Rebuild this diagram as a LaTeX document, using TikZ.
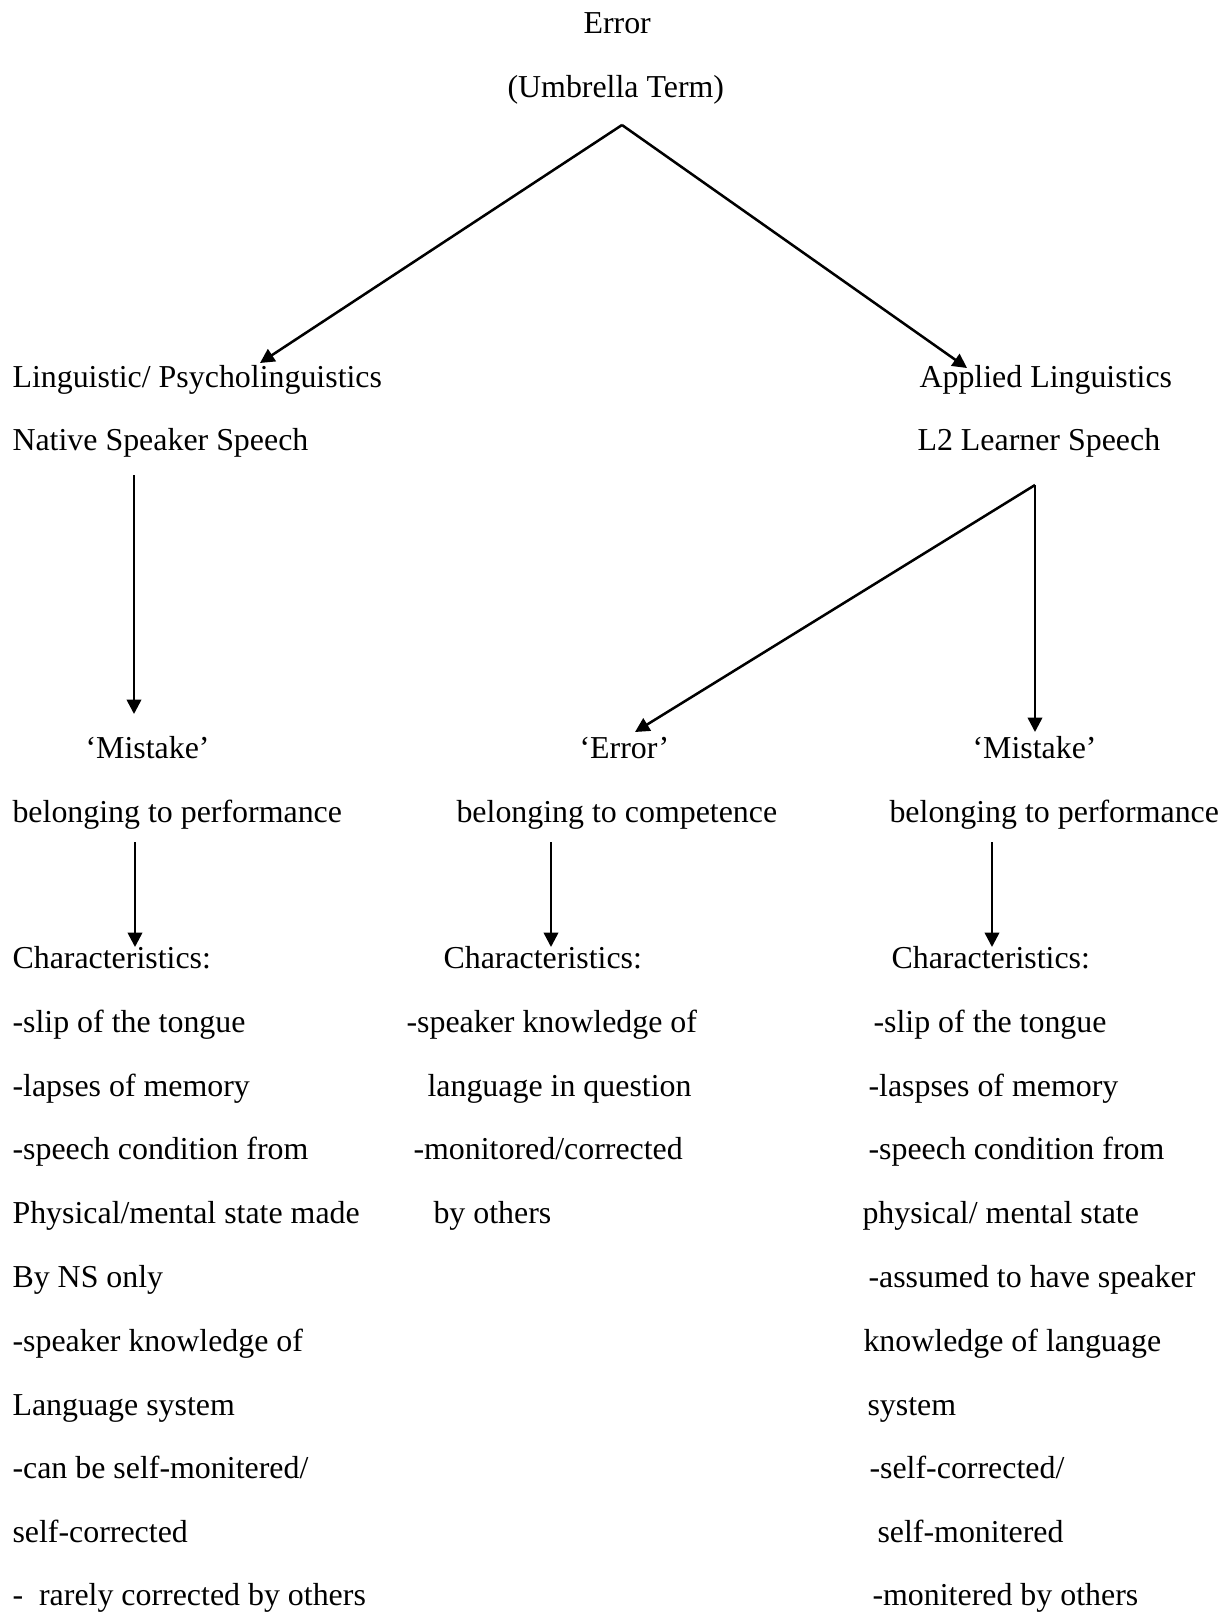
\documentclass[tikz,border=0pt]{standalone}
\usepackage{fontspec}
\setmainfont{Liberation Serif}
\usetikzlibrary{arrows.meta}

\begin{document}
\begin{tikzpicture}[x=0.3762pt, y=-0.3762pt,
        txt/.style={anchor=base west, inner sep=0pt, font=\fontsize{12pt}{14pt}\selectfont},
        arr/.style={-{Triangle[length=5.4pt,width=5.4pt]}, line width=0.95pt}]
                \useasboundingbox (0,0) rectangle (1230,1612);

                % Nodes
                \node[txt] (error) at (583,33) {Error};
                \node[txt] (umbrella) at (507,97) {(Umbrella Term)};

                \node[txt] (ling) at (12,387) {Linguistic/ Psycholinguistics};
                \node[txt] (native) at (12,450) {Native Speaker Speech};
                \node[txt] (applied) at (919,387) {Applied Linguistics};
                \node[txt] (learner) at (917,450) {L2 Learner Speech};

                \node[txt] (mistakeL) at (85,758) {‘Mistake’};
                \node[txt] (errorM) at (579,758) {‘Error’};
                \node[txt] (mistakeR) at (972,758) {‘Mistake’};

                \node[txt] (perfL) at (12,822) {belonging to performance};
                \node[txt] (compM) at (456,822) {belonging to competence};
                \node[txt] (perfR) at (889,822) {belonging to performance};

                \node[txt] (charL) at (12,968) {Characteristics:};
                \node[txt] (charM) at (443,968) {Characteristics:};
                \node[txt] (charR) at (891,968) {Characteristics:};

                % Left column
                \node[txt] (l1) at (12,1032) {-slip of the tongue};
                \node[txt] (l2) at (12,1096) {-lapses of memory};
                \node[txt] (l3) at (12,1159) {-speech condition from};
                \node[txt] (l4) at (12,1223) {Physical/mental state made};
                \node[txt] (l5) at (12,1287) {By NS only};
                \node[txt] (l6) at (12,1351) {-speaker knowledge of};
                \node[txt] (l7) at (12,1415) {Language system};
                \node[txt] (l8) at (12,1478) {-can be self-monitered/};
                \node[txt] (l9) at (12,1542) {self-corrected};
                \node[txt] (l10) at (12,1605) {-\ \ rarely corrected by others};

                % Middle column
                \node[txt] (m1) at (406,1032) {-speaker knowledge of};
                \node[txt] (m2) at (427,1096) {language in question};
                \node[txt] (m3) at (413,1159) {-monitored/corrected};
                \node[txt] (m4) at (433,1223) {by others};

                % Right column
                \node[txt] (r1) at (873,1032) {-slip of the tongue};
                \node[txt] (r2) at (868,1096) {-laspses of memory};
                \node[txt] (r3) at (868,1159) {-speech condition from};
                \node[txt] (r4) at (862,1223) {physical/ mental state};
                \node[txt] (r5) at (868,1287) {-assumed to have speaker};
                \node[txt] (r6) at (863,1351) {knowledge of language};
                \node[txt] (r7) at (867,1415) {system};
                \node[txt] (r8) at (869,1478) {-self-corrected/};
                \node[txt] (r9) at (877,1542) {self-monitered};
                \node[txt] (r10) at (872,1605) {-monitered by others};

                % Arrow ends
                \coordinate (topsplit) at (622,125);
                \coordinate (lingtip) at (260,363);
                \coordinate (appliedtip) at (967,368);
                \coordinate (nativefoot) at (134,475);
                \coordinate (mistakeLtip) at (134,714);
                \coordinate (learnersplit) at (1035,485);
                \coordinate (errorMtip) at (635,732);
                \coordinate (mistakeRtip) at (1035,732);
                \coordinate (perfLfoot) at (135,842);
                \coordinate (charLtip) at (135,947);
                \coordinate (compMfoot) at (551,842);
                \coordinate (charMtip) at (551,947);
                \coordinate (perfRfoot) at (992,842);
                \coordinate (charRtip) at (992,947);

                % Edges
                \draw[arr] (topsplit) -- (lingtip);
                \draw[arr] (topsplit) -- (appliedtip);
                \draw[arr] (nativefoot) -- (mistakeLtip);
                \draw[arr] (learnersplit) -- (errorMtip);
                \draw[arr] (learnersplit) -- (mistakeRtip);
                \draw[arr] (perfLfoot) -- (charLtip);
                \draw[arr] (compMfoot) -- (charMtip);
                \draw[arr] (perfRfoot) -- (charRtip);
            \end{tikzpicture}
\end{document}
